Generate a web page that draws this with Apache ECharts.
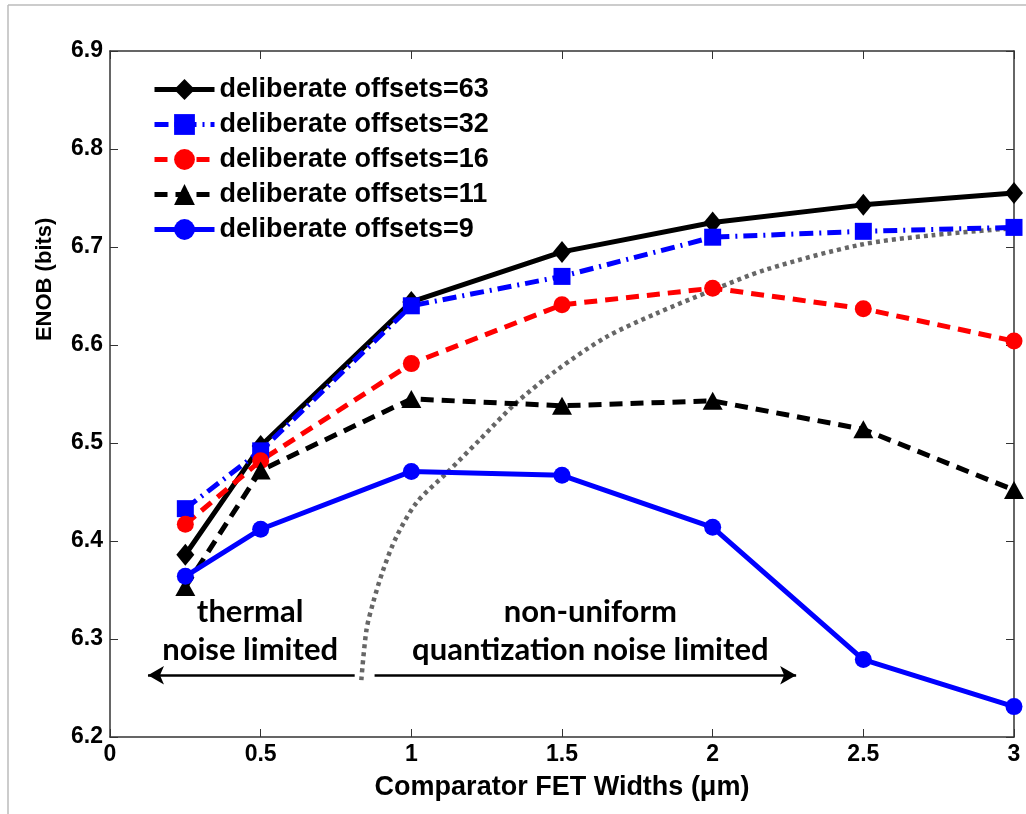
<!DOCTYPE html>
<html>
<head>
<meta charset="utf-8">
<script src="https://cdn.jsdelivr.net/npm/echarts@6/dist/echarts.min.js"></script>
<style>
html,body{margin:0;padding:0;background:#fff;}
#chart{width:1026px;height:814px;}
</style>
</head>
<body>
<div id="chart"></div>
<script>
// ---- data ----
var widths = [0.25, 0.5, 1, 1.5, 2, 2.5, 3];
var seriesNames = ['deliberate offsets=63', 'deliberate offsets=32', 'deliberate offsets=16', 'deliberate offsets=11', 'deliberate offsets=9'];
var enob63 = [6.386, 6.497, 6.644, 6.695, 6.725, 6.743, 6.755];
var enob32 = [6.433, 6.492, 6.640, 6.670, 6.710, 6.716, 6.720];
var enob16 = [6.417, 6.482, 6.581, 6.641, 6.658, 6.637, 6.604];
var enob11 = [6.353, 6.472, 6.545, 6.538, 6.543, 6.514, 6.452];
var enob9  = [6.364, 6.412, 6.471, 6.467, 6.414, 6.279, 6.231];
// boundary (dotted) curve
var boundaryX = [0.834, 0.851, 0.873, 0.906, 0.950, 1.017, 1.116, 1.226, 1.348, 1.481, 1.646, 1.812, 2.000, 2.178, 2.486, 2.728, 2.990];
var boundaryY = [6.258, 6.309, 6.337, 6.370, 6.404, 6.439, 6.469, 6.503, 6.541, 6.574, 6.608, 6.632, 6.656, 6.677, 6.702, 6.712, 6.719];
var xTicks = [0, 0.5, 1, 1.5, 2, 2.5, 3];
var yTicks = [6.2, 6.3, 6.4, 6.5, 6.6, 6.7, 6.8, 6.9];
// annotations
var arrowY = 6.263;
var leftArrow = [0.812, 0.126];
var rightArrow = [0.878, 2.277];
var leftText = {x: 0.465, y1: 6.328, y2: 6.289, lines: ['thermal', 'noise limited']};
var rightText = {x: 1.594, y1: 6.328, y2: 6.289, lines: ['non-uniform', 'quantization noise limited']};
var yTitle = 'ENOB (bits)';
var yTitleAt = 6.667;

function pairs(xs, ys){ return xs.map(function(x,i){ return [x, ys[i]]; }); }

var chart = echarts.init(document.getElementById('chart'), null, {renderer:'canvas'});
var FONT = 'Liberation Sans, Arial';
var axisFont = {fontFamily:FONT, fontWeight:'bold', fontSize:23, color:'#000'};
var lineCommon = {type:'line', symbolKeepAspect:true, z:3};

var option = {
  animation:false,
  backgroundColor:'#fff',
  grid:{left:110, right:12, top:51, bottom:77, containLabel:false},
  legend:{
    data:seriesNames,
    orient:'vertical',
    left:147, top:71,
    itemWidth:60, itemHeight:26, itemGap:8,
    lineStyle:{width:5},
    textStyle:{fontFamily:FONT, fontWeight:'bold', fontSize:27, color:'#000'},
    selectedMode:false
  },
  xAxis:[{
    type:'value', min:0, max:3, interval:0.5,
    axisLine:{onZero:false, lineStyle:{color:'#333', width:1.5}},
    axisTick:{inside:true, length:8, lineStyle:{color:'#333'}},
    axisLabel:Object.assign({margin:6, formatter:function(v){return String(v);}}, axisFont),
    splitLine:{show:false},
    name:'Comparator FET Widths (\u03bcm)', nameLocation:'middle', nameGap:37,
    nameTextStyle:{fontFamily:FONT, fontWeight:'bold', fontSize:27, color:'#000'}
  },{
    type:'value', min:0, max:3, interval:0.5, position:'top',
    axisLine:{onZero:false, lineStyle:{color:'#333', width:1.5}},
    axisTick:{inside:true, length:8, lineStyle:{color:'#333'}},
    axisLabel:{show:false}, splitLine:{show:false}
  }],
  yAxis:[{
    type:'value', min:6.2, max:6.9, interval:0.1,
    axisLine:{show:true, onZero:false, lineStyle:{color:'#333', width:1.5}},
    axisTick:{show:true, inside:true, length:8, lineStyle:{color:'#333'}},
    axisLabel:Object.assign({margin:7, formatter:function(v){return v.toFixed(1);}}, axisFont),
    splitLine:{show:false}
  },{
    type:'value', min:6.2, max:6.9, interval:0.1, position:'right',
    axisLine:{show:true, onZero:false, lineStyle:{color:'#333', width:1.5}},
    axisTick:{show:true, inside:true, length:8, lineStyle:{color:'#333'}},
    axisLabel:{show:false}, splitLine:{show:false}
  }],
  series:[
    {type:'line', name:'boundary', data:pairs(boundaryX, boundaryY), smooth:0.3, showSymbol:false, symbol:'none',
     lineStyle:{color:'#666', width:4.5, type:[4,4]}, z:2, silent:true},
    Object.assign({name:seriesNames[0], data:pairs(widths, enob63), symbol:'diamond', symbolSize:[18,22],
      itemStyle:{color:'#000'}, lineStyle:{color:'#000', width:5, type:'solid'}}, lineCommon),
    Object.assign({name:seriesNames[1], data:pairs(widths, enob32), symbol:'rect', symbolSize:17,
      itemStyle:{color:'#0000ff'}, lineStyle:{color:'#0000ff', width:5, type:[14,6,2,6]}}, lineCommon),
    Object.assign({name:seriesNames[2], data:pairs(widths, enob16), symbol:'circle', symbolSize:17,
      itemStyle:{color:'#ff0000'}, lineStyle:{color:'#ff0000', width:5, type:[13,8]}}, lineCommon),
    Object.assign({name:seriesNames[3], data:pairs(widths, enob11), symbol:'triangle', symbolSize:[20,18],
      itemStyle:{color:'#000'}, lineStyle:{color:'#000', width:5, type:[13,8]}}, lineCommon),
    Object.assign({name:seriesNames[4], data:pairs(widths, enob9), symbol:'circle', symbolSize:17,
      itemStyle:{color:'#0000ff'}, lineStyle:{color:'#0000ff', width:5, type:'solid'}}, lineCommon),
    {type:'line', name:'arrows', data:[], silent:true,
     markLine:{silent:true, symbol:['none','arrow'], symbolSize:[14,16], animation:false,
       lineStyle:{color:'#000', width:2.5, type:'solid'}, label:{show:false},
       data:[
         [{coord:[leftArrow[0], arrowY]}, {coord:[leftArrow[1], arrowY]}],
         [{coord:[rightArrow[0], arrowY]}, {coord:[rightArrow[1], arrowY]}]
       ]}}
  ]
};
chart.setOption(option);

function txt(x, y, s){
  var p = chart.convertToPixel({xAxisIndex:0, yAxisIndex:0}, [x, y]);
  return {type:'text', x:p[0], y:p[1], style:{text:s, fontFamily:'Lato, Open Sans', fontWeight:'bold', fontSize:31, fill:'#000', align:'center', verticalAlign:'middle'}, z:10};
}
var yTitlePx = chart.convertToPixel({yAxisIndex:0}, yTitleAt);
chart.setOption({graphic:[
  {type:'line', shape:{x1:8, y1:5, x2:1026, y2:5}, style:{stroke:'#bbb', lineWidth:1.5}},
  {type:'line', shape:{x1:8, y1:5, x2:8, y2:814}, style:{stroke:'#bbb', lineWidth:1.5}},
  {type:'text', x:45, y:yTitlePx, rotation:Math.PI/2,
   style:{text:yTitle, fontFamily:FONT, fontWeight:'bold', fontSize:22, fill:'#000', align:'center', verticalAlign:'middle'}},
  txt(leftText.x, leftText.y1, leftText.lines[0]),
  txt(leftText.x, leftText.y2, leftText.lines[1]),
  txt(rightText.x, rightText.y1, rightText.lines[0]),
  txt(rightText.x, rightText.y2, rightText.lines[1])
]});
</script>
</body>
</html>
